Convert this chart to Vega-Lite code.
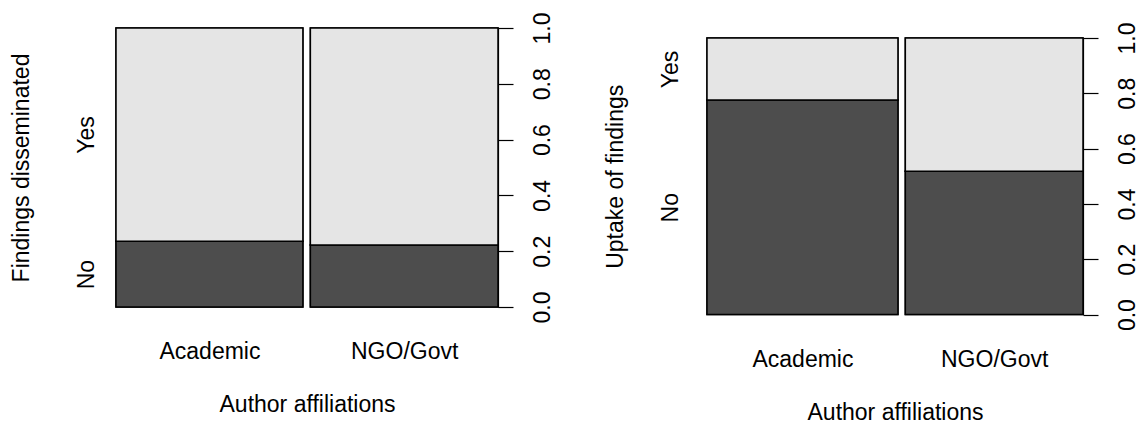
{
  "$schema": "https://vega.github.io/schema/vega-lite/v6.json",
  "background": "white",
  "padding": {"left": 9, "top": 12, "right": 5, "bottom": 5},
  "config": {
    "font": "Liberation Sans",
    "view": {"stroke": null},
    "axis": {
      "labelColor": "black", "titleColor": "black",
      "labelFontSize": 23, "titleFontSize": 23, "titleFontWeight": "normal",
      "grid": false, "domainColor": "black", "tickColor": "black",
      "domainWidth": 1.2, "tickWidth": 1.2
    }
  },
  "datasets": {
    "spine": [
      {"panel": "Findings disseminated", "affiliation": "Academic", "response": "No", "share": 0.236, "from": 0, "to": 0.499},
      {"panel": "Findings disseminated", "affiliation": "Academic", "response": "Yes", "share": 0.764, "from": 0, "to": 0.499},
      {"panel": "Findings disseminated", "affiliation": "NGO/Govt", "response": "No", "share": 0.222, "from": 0.519, "to": 1.02},
      {"panel": "Findings disseminated", "affiliation": "NGO/Govt", "response": "Yes", "share": 0.778, "from": 0.519, "to": 1.02},
      {"panel": "Uptake of findings", "affiliation": "Academic", "response": "No", "share": 0.776, "from": 0, "to": 0.518},
      {"panel": "Uptake of findings", "affiliation": "Academic", "response": "Yes", "share": 0.224, "from": 0, "to": 0.518},
      {"panel": "Uptake of findings", "affiliation": "NGO/Govt", "response": "No", "share": 0.518, "from": 0.538, "to": 1.02},
      {"panel": "Uptake of findings", "affiliation": "NGO/Govt", "response": "Yes", "share": 0.482, "from": 0.538, "to": 1.02}
    ]
  },
  "bounds": "flush",
  "spacing": 209,
  "hconcat": [
    {
      "data": {"name": "spine"},
      "transform": [
        {"filter": "datum.panel === 'Findings disseminated'"},
        {"stack": "share", "groupby": ["affiliation"], "sort": [{"field": "response", "order": "ascending"}], "as": ["y0", "y1"]}
      ],
      "width": 382,
      "height": 279,
      "encoding": {
        "x": {"field": "from", "type": "quantitative", "scale": {"domain": [0, 1.02], "nice": false, "zero": false},
          "axis": {"orient": "bottom", "values": [0.2495, 0.7695], "labelExpr": "datum.value < 0.5 ? 'Academic' : 'NGO/Govt'",
            "domain": false, "ticks": false, "labelPadding": 33, "labelOverlap": false, "labelFlush": false,
            "title": "Author affiliations", "titlePadding": 30}},
        "x2": {"field": "to"},
        "y2": {"field": "y1"},
        "color": {"field": "response", "type": "nominal", "scale": {"domain": ["No", "Yes"], "range": ["#4d4d4d", "#e5e5e5"]}, "legend": null}
      },
      "layer": [
        {
          "mark": {"type": "rect", "stroke": "black", "strokeWidth": 1.5},
          "encoding": {
            "y": {"field": "y0", "type": "quantitative", "scale": {"domain": [0, 1], "nice": false, "zero": false},
              "axis": {"orient": "right", "values": [0, 0.2, 0.4, 0.6, 0.8, 1], "format": ".1f", "labelAngle": -90,
                "labelAlign": "center", "labelBaseline": "top", "labelPadding": 18, "tickSize": 15, "title": null,
                "labelOverlap": false, "labelFlush": false, "labelBound": false}}
          }
        },
        {
          "mark": {"type": "rect", "stroke": "black", "strokeWidth": 1.5},
          "encoding": {
            "y": {"field": "y0", "type": "quantitative",
              "axis": {"orient": "left", "values": [0.118, 0.618], "labelExpr": "datum.value < 0.3 ? 'No' : 'Yes'",
                "labelAngle": -90, "labelAlign": "center", "labelBaseline": "alphabetic", "labelPadding": 23,
                "domain": false, "ticks": false, "labelOverlap": false, "labelFlush": false,
                "title": "Findings disseminated", "titleBaseline": "alphabetic", "titlePadding": 47}}
          }
        }
      ],
      "resolve": {"axis": {"y": "independent"}}
    },
    {
      "data": {"name": "spine"},
      "transform": [
        {"filter": "datum.panel === 'Uptake of findings'"},
        {"stack": "share", "groupby": ["affiliation"], "sort": [{"field": "response", "order": "ascending"}], "as": ["y0", "y1"]}
      ],
      "width": 376,
      "height": 287,
      "encoding": {
        "x": {"field": "from", "type": "quantitative", "scale": {"domain": [0, 1.02], "nice": false, "zero": false},
          "axis": {"orient": "bottom", "values": [0.259, 0.779], "labelExpr": "datum.value < 0.5 ? 'Academic' : 'NGO/Govt'",
            "domain": false, "ticks": false, "labelPadding": 33, "labelOverlap": false, "labelFlush": false,
            "title": "Author affiliations", "titlePadding": 30}},
        "x2": {"field": "to"},
        "y2": {"field": "y1"},
        "color": {"field": "response", "type": "nominal", "scale": {"domain": ["No", "Yes"], "range": ["#4d4d4d", "#e5e5e5"]}, "legend": null}
      },
      "layer": [
        {
          "mark": {"type": "rect", "stroke": "black", "strokeWidth": 1.5},
          "encoding": {
            "y": {"field": "y0", "type": "quantitative", "scale": {"domain": [0, 1], "nice": false, "zero": false, "range": [286.6, 10]},
              "axis": {"orient": "right", "values": [0, 0.2, 0.4, 0.6, 0.8, 1], "format": ".1f", "labelAngle": -90,
                "labelAlign": "center", "labelBaseline": "top", "labelPadding": 18, "tickSize": 15, "title": null,
                "labelOverlap": false, "labelFlush": false, "labelBound": false}}
          }
        },
        {
          "mark": {"type": "rect", "stroke": "black", "strokeWidth": 1.5},
          "encoding": {
            "y": {"field": "y0", "type": "quantitative",
              "axis": {"orient": "left", "values": [0.388, 0.888], "labelExpr": "datum.value < 0.6 ? 'No' : 'Yes'",
                "labelAngle": -90, "labelAlign": "center", "labelBaseline": "alphabetic", "labelPadding": 30,
                "domain": false, "ticks": false, "labelOverlap": false, "labelFlush": false,
                "title": "Uptake of findings", "titleBaseline": "alphabetic", "titlePadding": 37}}
          }
        }
      ],
      "resolve": {"axis": {"y": "independent"}}
    }
  ]
}
